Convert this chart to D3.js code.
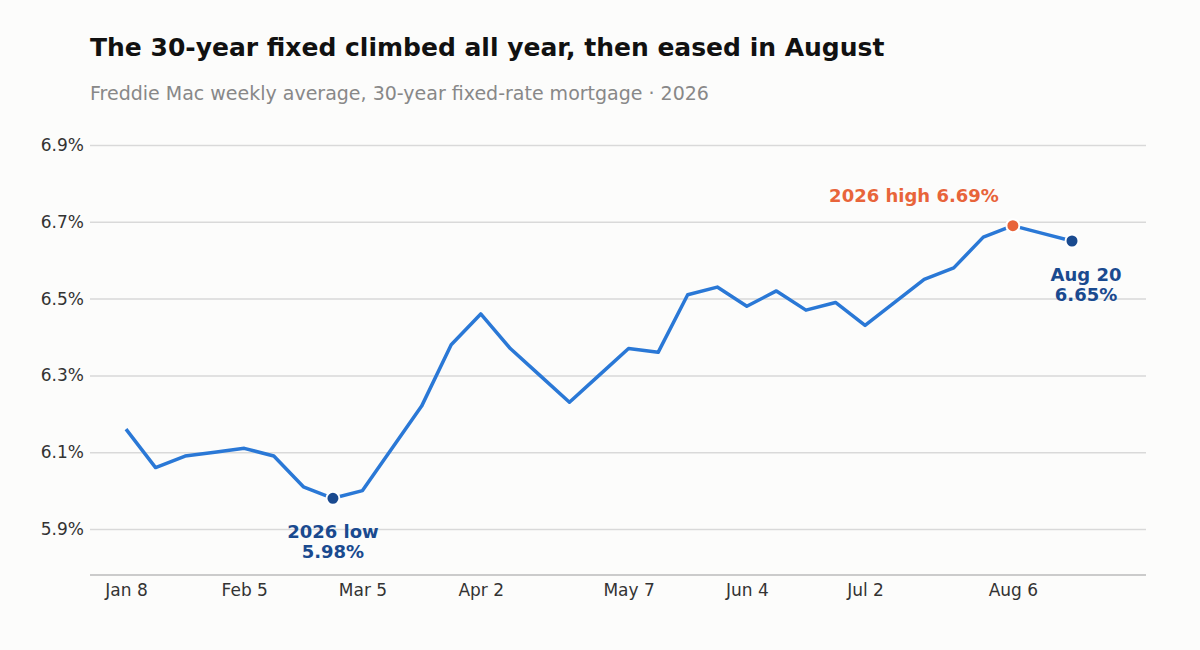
<html>
<head>
<script src="https://cdn.jsdelivr.net/npm/d3@7"></script>
<style>
  body { margin: 0; background: #fcfcfb; }
  svg { font-family: "DejaVu Sans", sans-serif; }
</style>
</head>
<body>
<svg id="chart" width="1200" height="650"></svg>
<script>
const weeks = ["2026-01-08","2026-01-15","2026-01-22","2026-01-29","2026-02-05","2026-02-12","2026-02-19","2026-02-26",
  "2026-03-05","2026-03-12","2026-03-19","2026-03-26","2026-04-02","2026-04-09","2026-04-16","2026-04-23","2026-04-30",
  "2026-05-07","2026-05-14","2026-05-21","2026-05-28","2026-06-04","2026-06-11","2026-06-18","2026-06-25",
  "2026-07-02","2026-07-09","2026-07-16","2026-07-23","2026-07-30","2026-08-06","2026-08-13","2026-08-20"];
const rates = [6.16,6.06,6.09,6.10,6.11,6.09,6.01,5.98,
  6.00,6.11,6.22,6.38,6.46,6.37,6.30,6.23,6.30,
  6.37,6.36,6.51,6.53,6.48,6.52,6.47,6.49,
  6.43,6.49,6.55,6.58,6.66,6.69,6.67,6.65];
const yTicks = [5.9, 6.1, 6.3, 6.5, 6.7, 6.9];
const xTicks = ["2026-01-08","2026-02-05","2026-03-05","2026-04-02","2026-05-07","2026-06-04","2026-07-02","2026-08-06"];

const parse = d3.utcParse("%Y-%m-%d");
const data = weeks.map((w, i) => ({date: parse(w), rate: rates[i]}));

const svg = d3.select("#chart");
const left = 90, right = 1146, bottom = 575;

const x = d3.scaleUtc().domain([parse("2026-01-08"), parse("2026-08-20")]).range([126, 1072]);
const y = d3.scaleLinear().domain([5.9, 6.9]).range([529, 145]);

svg.append("text").attr("x", 90).attr("y", 56).attr("font-size", 25).attr("font-weight", "bold")
  .attr("fill", "#111").text("The 30-year fixed climbed all year, then eased in August");
svg.append("text").attr("x", 90).attr("y", 100).attr("font-size", 19).attr("fill", "#888")
  .text("Freddie Mac weekly average, 30-year fixed-rate mortgage · 2026");

// gridlines + y labels
const yAxis = svg.append("g").attr("transform", `translate(${left},0)`)
  .call(d3.axisLeft(y).tickValues(yTicks).tickSize(-(right - left)).tickFormat(d => d.toFixed(1) + "%"));
yAxis.select(".domain").remove();
yAxis.selectAll("line").attr("stroke", "#d9d9d9").attr("stroke-width", 1.5);
yAxis.selectAll("text").attr("x", -6).attr("font-size", 17).attr("fill", "#333").attr("font-family", "DejaVu Sans");

// x axis
const xAxis = svg.append("g").attr("transform", `translate(0,${bottom})`)
  .call(d3.axisBottom(x).tickValues(xTicks.map(parse)).tickSize(0).tickPadding(9).tickFormat(d3.utcFormat("%b %-d")));
xAxis.select(".domain").remove();
xAxis.selectAll("text").attr("font-size", 17).attr("fill", "#333").attr("font-family", "DejaVu Sans");
svg.append("line").attr("x1", left).attr("x2", right).attr("y1", bottom).attr("y2", bottom)
  .attr("stroke", "#bbb").attr("stroke-width", 1.5);

svg.append("path").datum(data)
  .attr("d", d3.line().x(d => x(d.date)).y(d => y(d.rate)))
  .attr("fill", "none").attr("stroke", "#2a78d6").attr("stroke-width", 3.5).attr("stroke-linejoin", "round");

const low = data[7], high = data[30], last = data[data.length - 1];
[[low, "#1a4a8f"], [last, "#1a4a8f"], [high, "#e8643a"]].forEach(([d, c]) => {
  svg.append("circle").attr("cx", x(d.date)).attr("cy", y(d.rate)).attr("r", 6.5)
    .attr("fill", c).attr("stroke", "#fff").attr("stroke-width", 2);
});

function label(px, py, lines, color, anchor) {
  const t = svg.append("text").attr("x", px).attr("y", py).attr("text-anchor", anchor)
    .attr("font-size", 18).attr("font-weight", "bold").attr("fill", color);
  lines.forEach((l, i) => t.append("tspan").attr("x", px).attr("dy", i ? 20 : 0).text(l));
}
label(x(low.date), y(low.rate) + 40, ["2026 low", "5.98%"], "#1a4a8f", "middle");
label(x(high.date) - 14, y(high.rate) - 24, ["2026 high  6.69%"], "#e8643a", "end");
label(x(last.date) + 14, y(last.rate) + 40, ["Aug 20", "6.65%"], "#1a4a8f", "middle");
</script>
</body>
</html>
